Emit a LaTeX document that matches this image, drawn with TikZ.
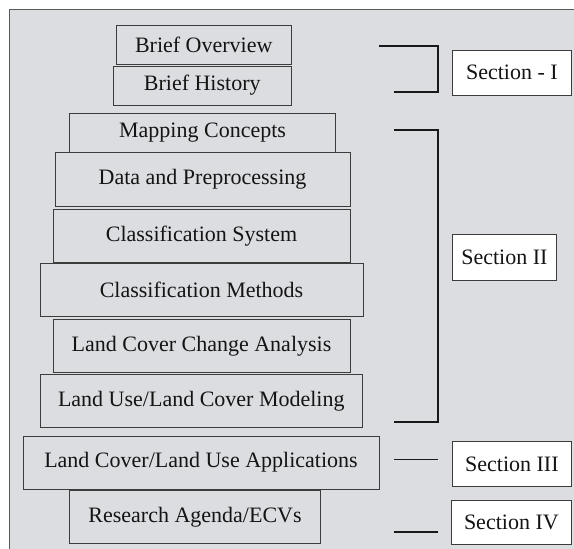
\documentclass[tikz,border=0pt]{standalone}
\usepackage{fontspec}
\setmainfont{Liberation Serif}
\definecolor{panelgray}{RGB}{220,221,224}
\definecolor{edgegray}{RGB}{60,60,60}
\tikzset{
  topic/.style={draw=edgegray, line width=0.9pt, fill=panelgray, inner sep=0pt,
    font=\fontsize{22}{25}\selectfont, text=black!92},
  sectbox/.style={draw=edgegray, line width=0.9pt, fill=white, inner sep=0pt,
    font=\fontsize{22}{25}\selectfont, text=black!92},
  brace/.style={line width=1.6pt, black!90}
}
\begin{document}
\begin{tikzpicture}[x=1pt,y=-1pt]
\useasboundingbox (0,0) rectangle (574,549) ;
\draw [draw=black!65, line width=1pt, fill=panelgray] (9.7,9.7) rectangle (590,570) ;
\node [topic, minimum width=174.5pt, minimum height=39pt] (overview) at (203.75,44.5) {Brief Overview} ;
\node [topic, minimum width=177.5pt, minimum height=39pt] (history) at (202.25,85.5) {Brief History} ;
\node [topic, minimum width=265.9pt, minimum height=39pt] (mapping) at (202.55,132.8) {Mapping Concepts} ;
\node [topic, minimum width=295pt, minimum height=54pt] (data) at (202.5,179.7) {Data and Preprocessing} ;
\node [topic, minimum width=297pt, minimum height=53.7pt] (clsystem) at (201.5,235.85) {Classification System} ;
\node [topic, minimum width=323pt, minimum height=53.4pt] (clmethods) at (201.5,290) {Classification Methods} ;
\node [topic, minimum width=297pt, minimum height=53.4pt] (change) at (201.5,346) {Land Cover Change Analysis} ;
\node [topic, minimum width=322.6pt, minimum height=53.7pt] (modeling) at (201.3,400.85) {Land Use/Land Cover Modeling} ;
\node [topic, minimum width=356pt, minimum height=53pt] (applications) at (201,462.5) {Land Cover/Land Use Applications} ;
\node [topic, minimum width=251pt, minimum height=53pt] (agenda) at (195,516.8) {Research Agenda/ECVs} ;
\node [sectbox, minimum width=118.3pt, minimum height=45pt] (secI) at (511.85,72.5) {Section - I} ;
\node [sectbox, minimum width=103.3pt, minimum height=46pt] (secII) at (504.35,257) {Section II} ;
\node [sectbox, minimum width=118.3pt, minimum height=44.3pt] (secIII) at (511.85,463.85) {Section III} ;
\node [sectbox, minimum width=119.3pt, minimum height=44pt] (secIV) at (511.35,522) {Section IV} ;
\coordinate (braceIa) at (379,46) ; \coordinate (braceIb) at (394,92) ;
\coordinate (braceIIa) at (394,129.7) ; \coordinate (braceIIb) at (394,422) ;
\coordinate (tickIIIa) at (394,459.3) ; \coordinate (tickIIIb) at (438,459.3) ;
\coordinate (tickIVa) at (394,532) ; \coordinate (tickIVb) at (438,532) ;
\draw [brace] (braceIa) -- (438,46) -- (438,92) -- (braceIb) ;
\draw [brace] (braceIIa) -- (438,129.7) -- (438,422) -- (braceIIb) ;
\draw [brace] (tickIIIa) -- (tickIIIb) ;
\draw [brace] (tickIVa) -- (tickIVb) ;
\end{tikzpicture}
\end{document}
